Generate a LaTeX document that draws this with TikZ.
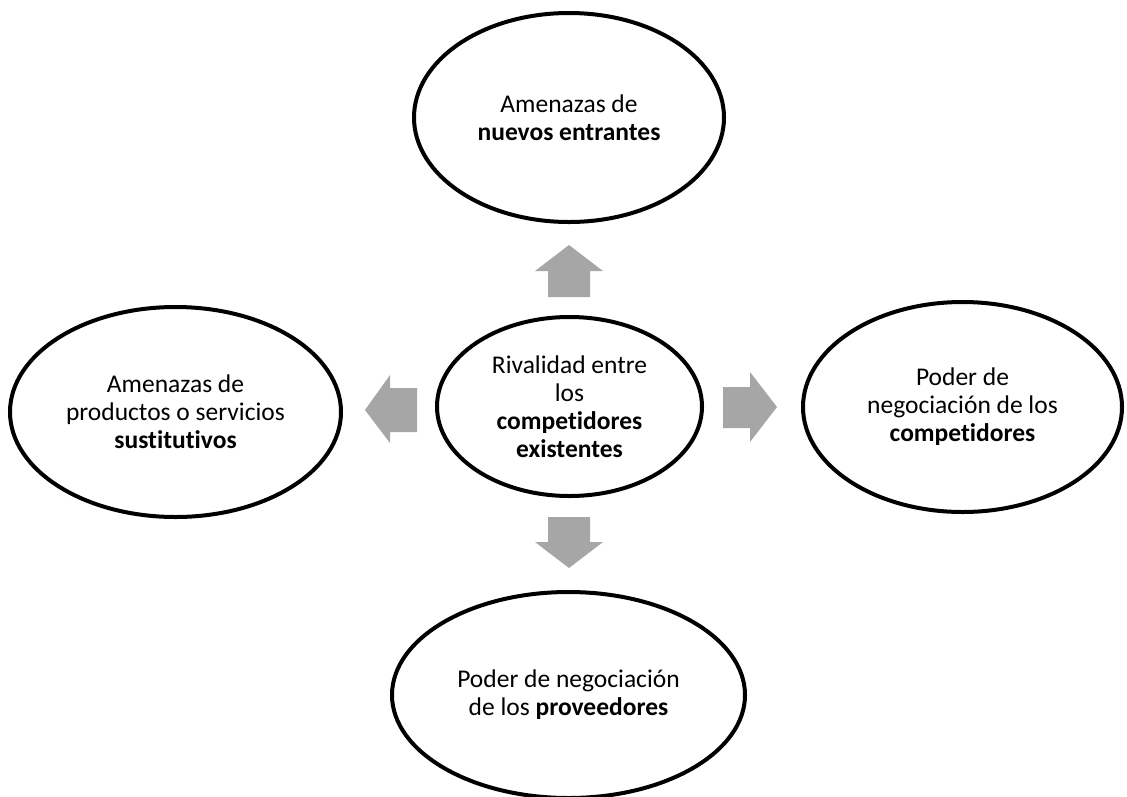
\documentclass[tikz,border=0pt]{standalone}
\usepackage{fontspec}
\setmainfont{Carlito}[Ligatures=NoCommon]
\usetikzlibrary{shapes.geometric}
\definecolor{arrowgray}{RGB}{166,166,166}
\begin{document}
\begin{tikzpicture}[x=1pt,y=-1pt,
  force/.style={ellipse, draw=black, line width=4pt, inner sep=0pt, align=center,
    font=\fontsize{25.5}{28}\selectfont},
  blockarrow/.style={fill=arrowgray, draw=none}]
\useasboundingbox (0,0) rectangle (1127,796);
% ellipses
\node[force, minimum width=310pt, minimum height=209pt] (entrantes) at (569,117.5)
  {Amenazas de\\\textbf{nuevos entrantes}};
\node[force, minimum width=331pt, minimum height=210pt] (sustitutos) at (175.5,412)
  {Amenazas de\\productos o servicios\\\textbf{sustitutivos}};
\node[force, minimum width=265pt, minimum height=179pt] (rivalidad) at (569.5,406.5)
  {Rivalidad entre\\los\\\textbf{competidores}\\\textbf{existentes}};
\node[force, minimum width=319pt, minimum height=210pt] (competidores) at (962.5,407)
  {Poder de\\negociación de los\\\textbf{competidores}};
\node[force, minimum width=353pt, minimum height=206pt] (proveedores) at (568.5,695)
  {Poder de negociación\\de los \textbf{proveedores}};
% block arrows
\fill[blockarrow] (569,245) -- (603,271) -- (590,271) -- (590,297) -- (548,297)
  -- (548,271) -- (535,271) -- cycle;
\fill[blockarrow] (569,568) -- (603,542) -- (590,542) -- (590,517) -- (548,517)
  -- (548,542) -- (535,542) -- cycle;
\fill[blockarrow] (777,407) -- (750,372) -- (750,387) -- (723,387) -- (723,428)
  -- (750,428) -- (750,442) -- cycle;
\fill[blockarrow] (365,410) -- (390,375) -- (390,388) -- (417,388) -- (417,432)
  -- (390,432) -- (390,443) -- cycle;
\end{tikzpicture}
\end{document}
